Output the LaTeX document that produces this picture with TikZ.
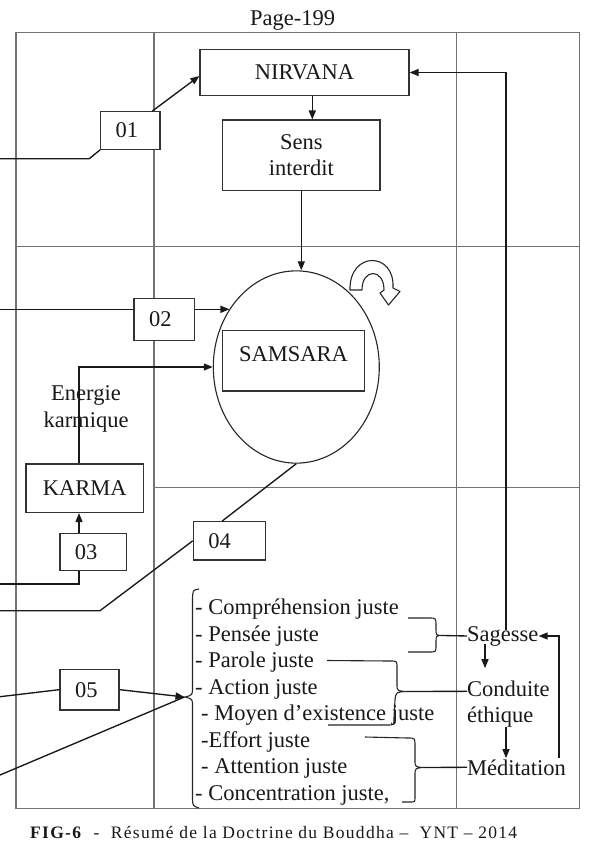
\documentclass[tikz,border=0pt]{standalone}
\usepackage{fontspec}
\setmainfont{Liberation Serif}
\newfontfamily\capfont[LetterSpace=7.4]{Liberation Serif}
\usetikzlibrary{arrows.meta,shapes.geometric,calc}
\begin{document}
\begin{tikzpicture}[x=1pt,y=-1pt,
  grid/.style={draw=black!55,line width=1.1pt},
  conn/.style={draw=black!90,line width=1.35pt},
  arr/.style={conn,-{Triangle[length=9pt,width=7pt]}},
  brk/.style={draw=black!85,line width=1.1pt},
  box/.style={draw=black!80,line width=1.2pt,fill=white,inner sep=0pt},
  numbox/.style={box,align=left,inner xsep=15pt,inner ysep=0pt},
  txt/.style={inner sep=0pt,anchor=base west},
  every node/.style={text=black!90,font=\fontsize{22.5}{26.6}\selectfont}
]
\fill[white] (0,0) rectangle (589,847);
\useasboundingbox (0,0) rectangle (589,847);

% grid
\draw[grid] (16,32.3) rectangle (579.5,808.3);
\draw[grid] (154,32.3) -- (154,808.3);
\draw[grid] (456.7,32.3) -- (456.7,808.3);
\draw[grid] (16,246.5) -- (579.5,246.5);
\draw[grid] (154,487.7) -- (579.5,487.7);

% title
\node[txt] (page) at (250,25) {Page-199};

% top boxes
\node[box,minimum width=209pt,minimum height=46.4pt] (nirv) at (304.5,72.5) {NIRVANA};
\node[box,minimum width=157.3pt,minimum height=70.5pt,align=center] (sens) at (301.3,155.3) {Sens\\interdit};

% samsara
\node[draw=black!85,line width=1.1pt,ellipse,minimum width=166pt,minimum height=192.3pt,inner sep=0pt] (ell) at (296.3,367) {};
\node[box,minimum width=141.7pt,inner xsep=0pt,text height=15.3pt,text depth=15pt,inner ysep=15pt] (sams) at (293.5,360.85) {SAMSARA};

% cyclic arrow
\draw[draw=black!85,line width=1.1pt,fill=white,line join=round]
  (350,290) .. controls (349,251) and (395,251) .. (393,288) -- (400,291.5) -- (388.5,305) -- (380,293) -- (384,290)
  .. controls (384,268) and (362,268) .. (362,290) -- cycle;

% numbered boxes
\node[numbox,text width=29.3pt,minimum height=37.6pt] (b01) at (130.3,130.5) {01};
\node[numbox,text width=30.3pt,minimum height=42.4pt] (b02) at (164.2,319.5) {02};
\node[numbox,text width=36.7pt,minimum height=37.4pt] (b03) at (93.3,552) {03};
\node[numbox,text width=42.4pt,minimum height=38.3pt] (b04) at (229.5,540.85) {04};
\node[numbox,text width=29pt,minimum height=40.7pt] (b05) at (89.5,689.65) {05};
\node[box,minimum width=117.3pt,minimum height=48.5pt] (karma) at (84.7,488.2) {KARMA};
\node[inner sep=0pt,align=center] (en) at (86,409) {Energie\\karmique};

% top connectors
\draw[arr] ([xshift=7.8pt]nirv.south) -- ([xshift=7.8pt]nirv.south |- sens.north);
\draw[arr] (sens.south) -- (sens.south |- ell.north);

\coordinate (L1) at (0,158.7);
\draw[conn] (L1) -- ++(89.3,0) -- (b01.south west);
\draw[arr] ([xshift=-8.3pt]b01.north east) -- ([yshift=-3.5pt]nirv.west);

\coordinate (L2) at (0,309.3);
\draw[conn] (L2) -- (L2 -| b02.west);
\draw[arr] (L2 -| b02.east) -- (L2 -| ell.139);

\draw[arr] ([xshift=-5.7pt]karma.north) |- (ell.west);

\draw[arr] ([xshift=-14.3pt]b03.north) -- ([xshift=-14.3pt]b03.north |- karma.south);
\coordinate (L3) at (0,584);
\draw[conn] ([xshift=-14.3pt]b03.south) |- (L3);

\draw[conn] (ell.south) -- ($(b04.north west)+(29.4,0)$);
\coordinate (L4) at (0,610.7);
\draw[conn] (L4) -- ++(100,0) -- (b04.west);

\coordinate (brtip) at (184.5,697);
\coordinate (L5a) at (0,696.7);
\coordinate (L5b) at (0,775);
\draw[conn] (L5a) -- (b05.west);
\draw[arr] (b05.east) -- (brtip);
\draw[conn] (L5b) -- (brtip);

% big brace
\draw[brk] (199,589) .. controls (193,590) .. (192.5,598) -- (192.5,688)
  .. controls (192.5,695) .. (185,697) .. controls (192.5,699) .. (192.5,706)
  -- (192.5,800) .. controls (193,806) .. (199,808);

% list
\node[txt] (l1) at (195,614) {- Compréhension juste};
\node[txt] (l2) at (195,641) {- Pensée juste};
\node[txt] (l3) at (195,667.5) {- Parole juste};
\node[txt] (l4) at (195,694) {- Action juste};
\node[txt] (l5) at (201,720.5) {- Moyen d’existence juste};
\node[txt] (l6) at (201,747) {-Effort juste};
\node[txt] (l7) at (201,773.5) {- Attention juste};
\node[txt] (l8) at (195,800) {- Concentration juste,};

% right column
\node[txt] (sag) at (467,641) {Sagesse};
\node[txt] (cond) at (467,696) {Conduite};
\node[txt] (eth) at (467,722.5) {éthique};
\node[txt] (med) at (467,775) {Méditation};

% small brackets
\coordinate (tS) at (443,635.5);
\draw[brk] (408,618) -- (429,618) .. controls (436,618) .. (436,626) -- (436,629)
  .. controls (436,635.5) .. (tS) .. controls (436,635.5) .. (436,642) -- (436,645)
  .. controls (436,652) .. (429,652) -- (408,652);
\draw[conn] (tS) -- (sag.west);

\coordinate (tC) at (407,691.5);
\draw[brk] (327,660.5) -- (390,661) .. controls (397,661) .. (397,668) -- (397,684)
  .. controls (397,691) .. (tC) .. controls (396,692) .. (395,700) -- (394,718)
  .. controls (394,725) .. (388,725) -- (328,725);
\draw[conn] (tC) -- ([yshift=-3pt]cond.west);

\coordinate (tM) at (424,767.5);
\draw[brk] (365,737) -- (408,738) .. controls (415,738) .. (415,746) -- (415,760)
  .. controls (415,767) .. (tM) .. controls (415,768) .. (415,776) -- (415,797)
  .. controls (415,802) .. (410,802) -- (402,802);
\draw[conn] (tM) -- (med.west);

% right arrows
\draw[arr] ([xshift=18pt,yshift=2pt]sag.south west) -- ([xshift=18pt,yshift=12pt]cond.north west);
\draw[arr] ([xshift=39pt]eth.south west) -- ([xshift=39pt,yshift=1pt]med.north west);
\draw[arr] ([xshift=92pt,yshift=1.6pt]med.north west) |- (sag.east);
\draw[arr] ([xshift=39pt,yshift=-4pt]sag.north west) |- (nirv.east);

% caption
\node[anchor=base west,inner sep=0pt,font=\capfont\fontsize{17.5}{21}\selectfont] (cap) at (30,838)
  {\textbf{FIG-6} ~-~ Résumé de la Doctrine du Bouddha –~ YNT – 2014};
\end{tikzpicture}
\end{document}
